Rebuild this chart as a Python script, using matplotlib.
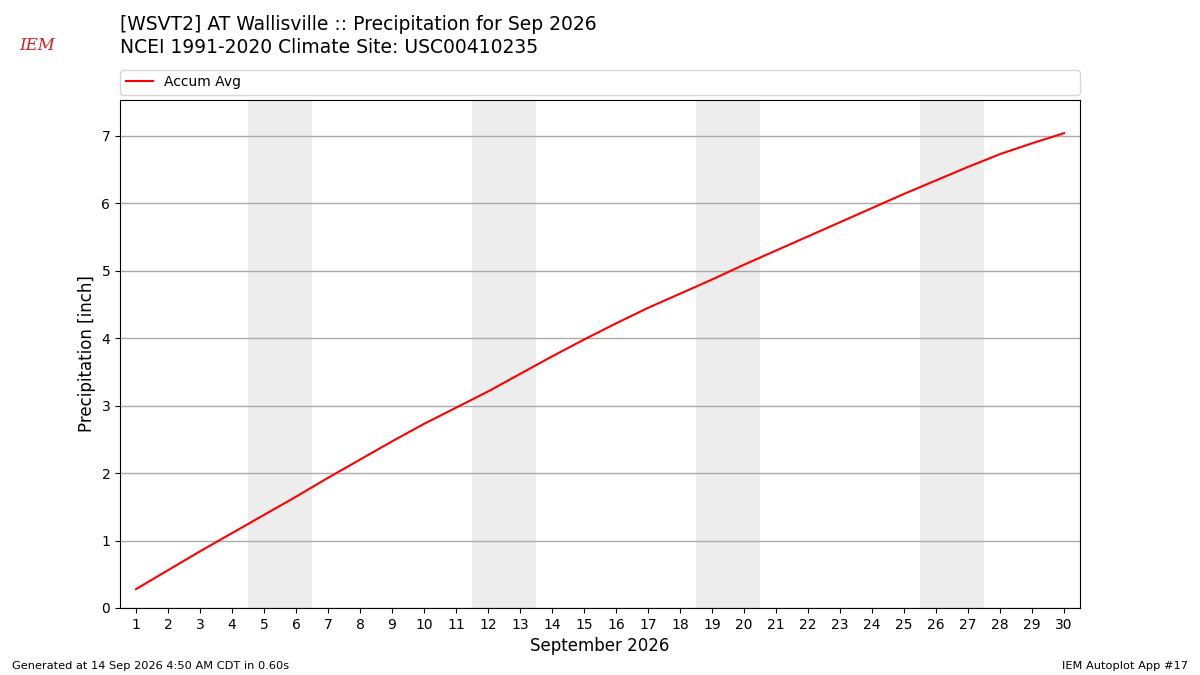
import matplotlib
matplotlib.use("Agg")
import matplotlib.pyplot as plt

# accumulated climatology
days = list(range(1, 31))
accum_avg = [0.28, 0.56, 0.84, 1.11, 1.38, 1.65, 1.93, 2.20, 2.47, 2.73,
             2.97, 3.21, 3.47, 3.73, 3.98, 4.22, 4.45, 4.66, 4.87, 5.09,
             5.30, 5.51, 5.72, 5.93, 6.14, 6.34, 6.54, 6.73, 6.89, 7.04]
weekends = [(5, 6), (12, 13), (19, 20), (26, 27)]

title_lines = [
    "[WSVT2] AT Wallisville :: Precipitation for Sep 2026",
    "NCEI 1991-2020 Climate Site: USC00410235",
]
footer_left = "Generated at 14 Sep 2026 4:50 AM CDT in 0.60s"
footer_right = "IEM Autoplot App #17"

fig = plt.figure(figsize=(12, 6.75), dpi=100)
ax = fig.add_axes([0.1, 0.0993, 0.8, 0.7526])

for start, end in weekends:
    ax.axvspan(start - 0.5, end + 0.5, color="#ededed", zorder=0, lw=0)

ax.plot(days, accum_avg, color="red", lw=1.5, label="Accum Avg", zorder=3)

ax.set_xlim(0.5, 30.5)
ax.set_ylim(0, max(accum_avg) * 1.07)
ax.set_xticks(days)
ax.set_xticklabels([str(d) for d in days])
ax.yaxis.grid(True, color="#aaaaaa", lw=1)
ax.set_axisbelow(True)
ax.tick_params(labelsize=10)
ax.set_xlabel("September 2026", fontsize=12)
ax.set_ylabel("Precipitation [inch]", fontsize=12)

ax.legend(loc="lower left", bbox_to_anchor=(0, 1.01, 1, 0.05), mode="expand",
          ncol=1, fontsize=10, borderaxespad=0, fancybox=True)

fig.text(0.1, 0.963, title_lines[0], fontsize=13.5, va="center", ha="left")
fig.text(0.1, 0.929, title_lines[1], fontsize=13.5, va="center", ha="left")

# stand-in for the IEM logo
fig.text(0.031, 0.932, "IEM", fontsize=12, color="#d42020", family="DejaVu Serif",
         style="italic", va="center", ha="center")

fig.text(0.01, 0.014, footer_left, fontsize=8.2, ha="left", va="center")
fig.text(0.99, 0.014, footer_right, fontsize=8.2, ha="right", va="center")

fig.savefig("out.png", dpi=100)
